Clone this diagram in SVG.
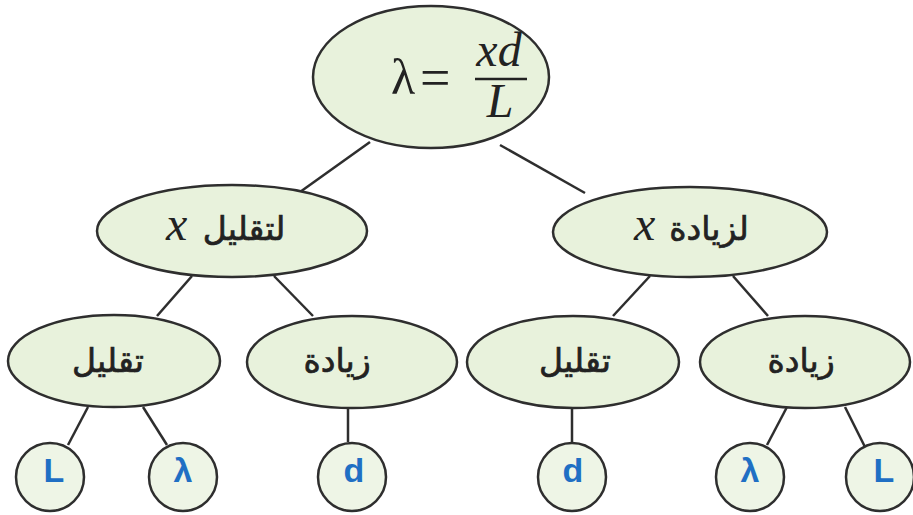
<svg xmlns="http://www.w3.org/2000/svg" width="913" height="515" viewBox="0 0 913 515">
<style>
.n{fill:#e8f2dc;stroke:#2e2e2e;stroke-width:2.5}
.c{fill:#eef5e6;stroke:#2e2e2e;stroke-width:2.5}
.e{stroke:#2e2e2e;stroke-width:2.5;fill:none}
.ar{font-family:"DejaVu Sans",sans-serif;font-size:33px;fill:#222;stroke:#222;stroke-width:0.7;text-anchor:middle}
.mx{font-family:"Liberation Serif",serif;font-style:italic;font-size:48px;fill:#222}
.lt{font-family:"Liberation Sans",sans-serif;font-weight:bold;font-size:34px;fill:#1f6fc4;text-anchor:middle}
</style>
<rect width="913" height="515" fill="#ffffff"/>
<g id="connectors">
<line class="e" x1="370" y1="142" x2="300" y2="192"/>
<line class="e" x1="500" y1="145" x2="585" y2="193"/>
<line class="e" x1="192" y1="276" x2="157" y2="316"/>
<line class="e" x1="274" y1="276" x2="313" y2="316"/>
<line class="e" x1="650" y1="276" x2="613" y2="316"/>
<line class="e" x1="733" y1="276" x2="768" y2="316"/>
<line class="e" x1="88" y1="407" x2="68" y2="445"/>
<line class="e" x1="143" y1="407" x2="167" y2="445"/>
<line class="e" x1="348" y1="408" x2="348" y2="442"/>
<line class="e" x1="572" y1="408" x2="572" y2="442"/>
<line class="e" x1="787" y1="407" x2="767" y2="445"/>
<line class="e" x1="845" y1="407" x2="865" y2="447"/>
</g>
<g id="root">
<ellipse class="n" cx="431" cy="77" rx="118" ry="71"/>
<text x="391" y="94" font-family="Liberation Serif,serif" font-size="50" fill="#222">λ</text>
<text x="420" y="96" font-family="Liberation Serif,serif" font-size="54" fill="#222">=</text>
<text x="499" y="66" class="mx" font-size="31" text-anchor="middle">xd</text>
<text x="500" y="117" class="mx" font-size="31" text-anchor="middle">L</text>
<line x1="475" y1="79" x2="527" y2="79" stroke="#222" stroke-width="2.5"/>
</g>
<g id="dec-x">
<ellipse class="n" cx="232" cy="231" rx="135" ry="46"/>
<text x="166" y="240" class="mx">x</text>
<text x="244" y="240" class="ar">لتقليل</text>
</g>
<g id="inc-x">
<ellipse class="n" cx="690" cy="232" rx="137" ry="45"/>
<text x="634" y="240" class="mx">x</text>
<text x="709" y="240" class="ar">لزيادة</text>
</g>
<g id="dec-left">
<ellipse class="n" cx="114" cy="361" rx="106" ry="46"/>
<text x="108" y="372" class="ar">تقليل</text>
</g>
<g id="inc-left">
<ellipse class="n" cx="352" cy="362" rx="105" ry="46"/>
<text x="337" y="372" class="ar">زيادة</text>
</g>
<g id="dec-right">
<ellipse class="n" cx="573" cy="362" rx="106" ry="46"/>
<text x="575" y="372" class="ar">تقليل</text>
</g>
<g id="inc-right">
<ellipse class="n" cx="805" cy="362" rx="105" ry="46"/>
<text x="801" y="372" class="ar">زيادة</text>
</g>
<g id="leaf-L1"><circle class="c" cx="50" cy="477" r="34"/><text x="54" y="482" class="lt">L</text></g>
<g id="leaf-lambda1"><circle class="c" cx="183" cy="477" r="34"/><text x="183" y="482" class="lt">λ</text></g>
<g id="leaf-d1"><circle class="c" cx="352" cy="477" r="34"/><text x="354" y="482" class="lt">d</text></g>
<g id="leaf-d2"><circle class="c" cx="572" cy="477" r="34"/><text x="573" y="482" class="lt">d</text></g>
<g id="leaf-lambda2"><circle class="c" cx="750" cy="477" r="34"/><text x="750" y="482" class="lt">λ</text></g>
<g id="leaf-L2"><circle class="c" cx="880" cy="477" r="34"/><text x="884" y="482" class="lt">L</text></g>
</svg>
